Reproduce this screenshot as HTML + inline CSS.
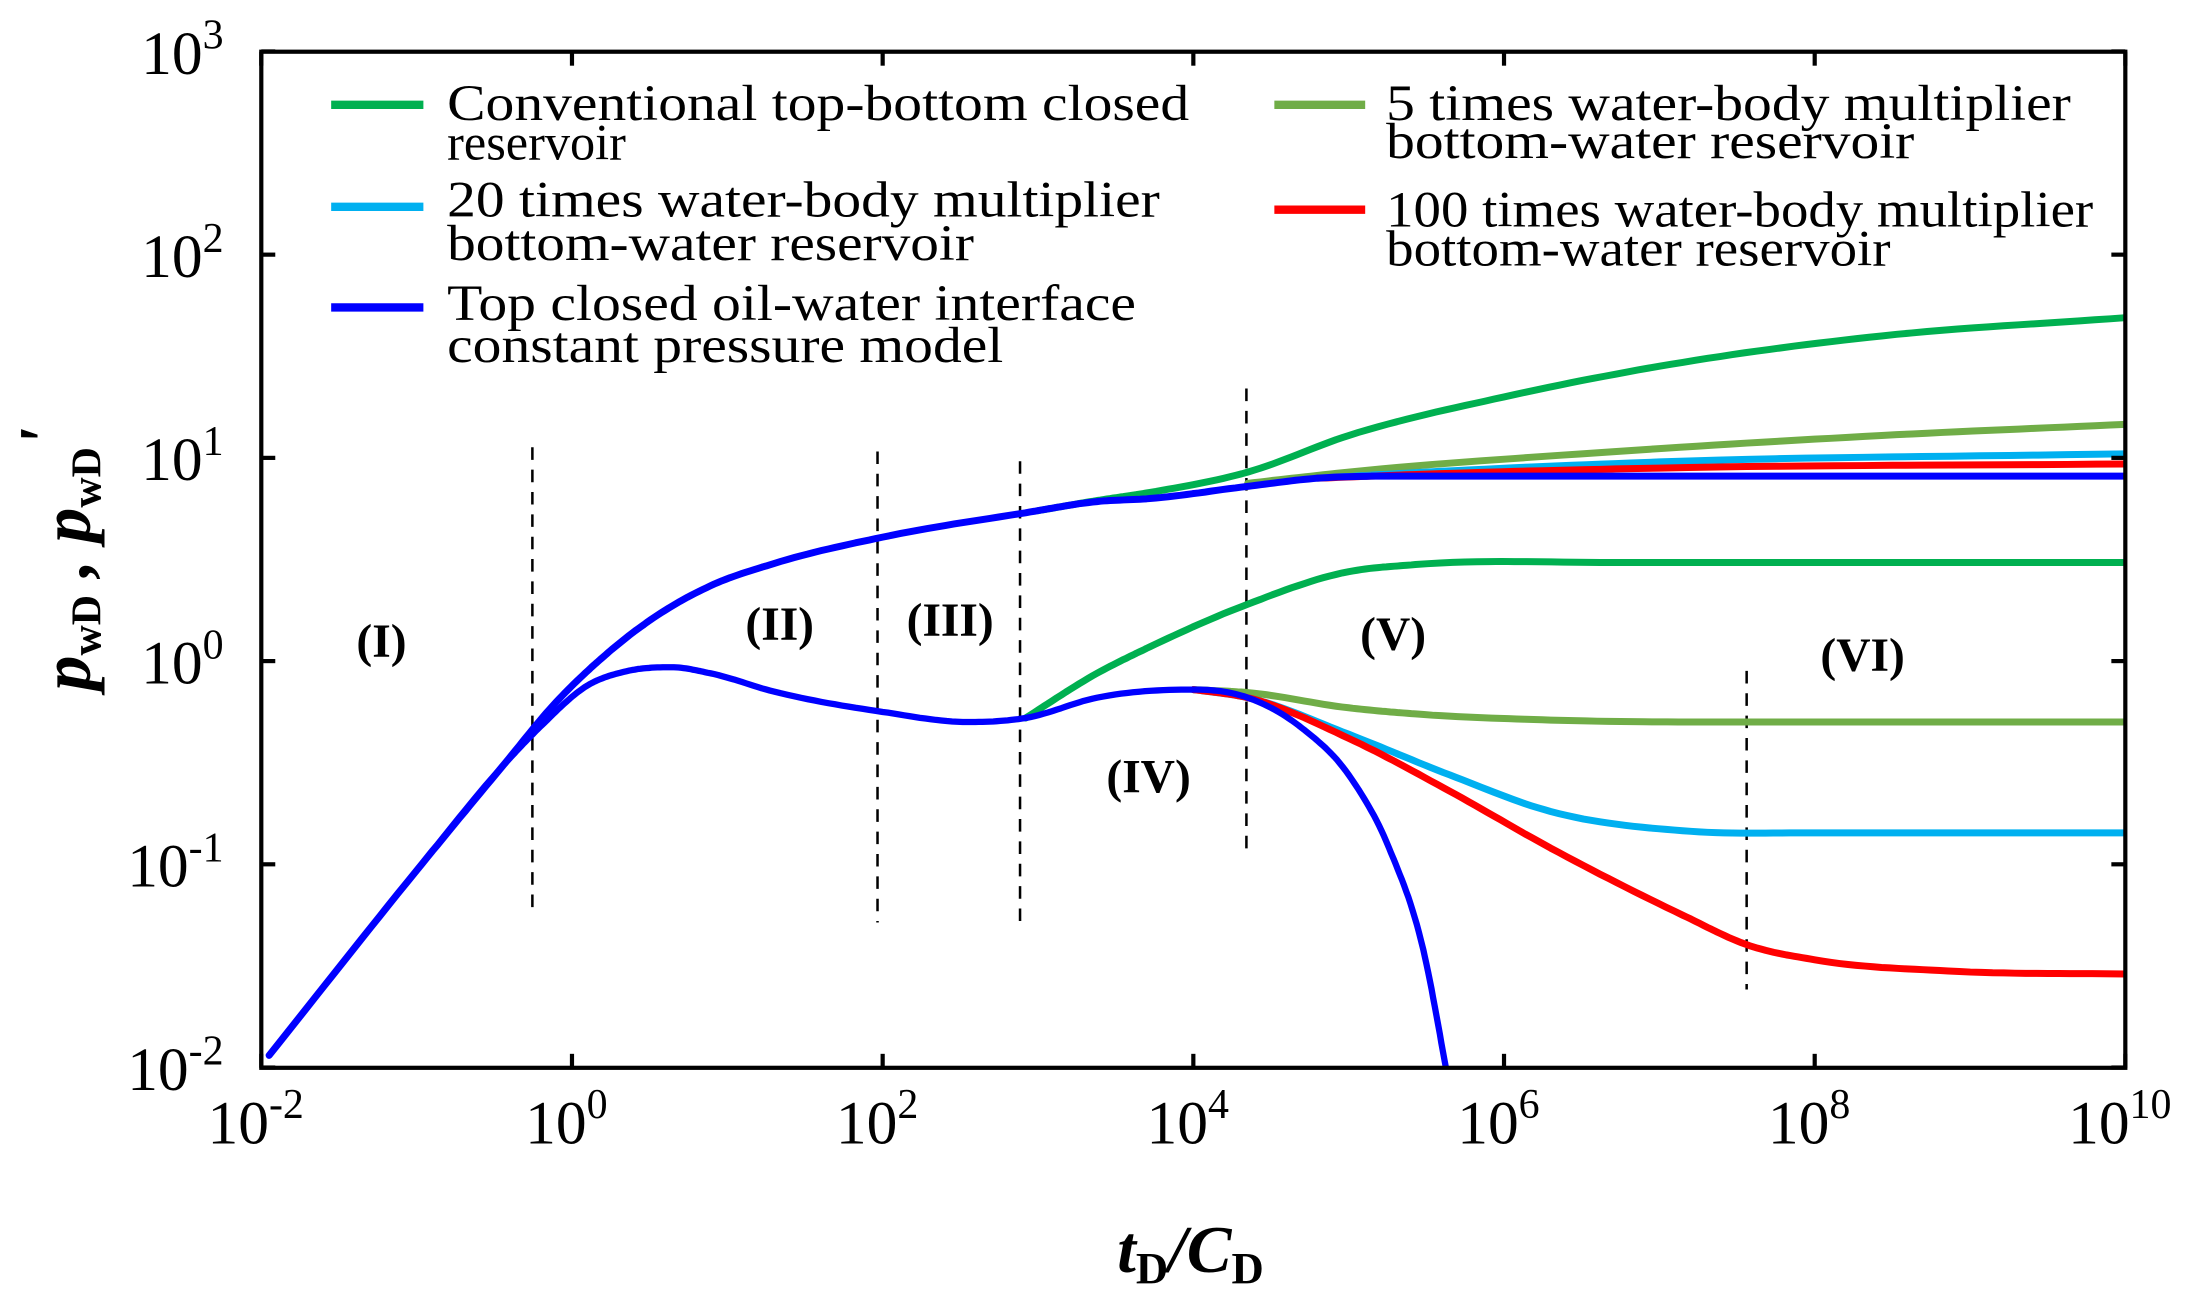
<!DOCTYPE html>
<html><head><meta charset="utf-8"><style>
html,body{margin:0;padding:0;background:#fff;}
svg{display:block;}
</style></head><body>
<svg id="s" width="2191" height="1311" viewBox="0 0 1568 938" preserveAspectRatio="none" xmlns="http://www.w3.org/2000/svg" font-family="Liberation Serif, serif">
<defs><clipPath id="c"><rect x="187" y="37" width="1334" height="727"/></clipPath></defs>
<g stroke="#000" stroke-width="1.8" stroke-dasharray="9,7" fill="none">
<line x1="381" y1="320" x2="381" y2="655"/>
<line x1="628" y1="323" x2="628" y2="660"/>
<line x1="730" y1="330" x2="730" y2="665"/>
<line x1="892" y1="278" x2="892" y2="612"/>
<line x1="1250" y1="480" x2="1250" y2="708"/>
</g>
<g id="curves" clip-path="url(#c)" fill="none" stroke-width="5" stroke-linecap="round" stroke-linejoin="round"></g>
<rect x="187" y="37" width="1334" height="727" fill="none" stroke="#000" stroke-width="3"/>
<g id="ticks" stroke="#000" stroke-width="3"></g>
<g font-size="44" id="xl" font-family="Liberation Serif, serif"></g>
<g stroke-width="6">
<line x1="237" y1="75" x2="303" y2="75" stroke="#00b050"/>
<line x1="237" y1="148" x2="303" y2="148" stroke="#00b0f0"/>
<line x1="237" y1="220" x2="303" y2="220" stroke="#0000ff"/>
<line x1="912" y1="75" x2="977" y2="75" stroke="#70ad47"/>
<line x1="912" y1="150" x2="977" y2="150" stroke="#ff0000"/>
</g>
<g font-size="36" font-family="Liberation Serif, serif">
<text x="320" y="86" textLength="531" lengthAdjust="spacingAndGlyphs">Conventional top-bottom closed</text>
<text x="320" y="114" font-size="36">reservoir</text>
<text x="320" y="155" textLength="510" lengthAdjust="spacingAndGlyphs">20 times water-body multiplier</text>
<text x="320" y="186" textLength="377" lengthAdjust="spacingAndGlyphs">bottom-water reservoir</text>
<text x="320" y="229" textLength="493" lengthAdjust="spacingAndGlyphs">Top closed oil-water interface</text>
<text x="320" y="259" textLength="398" lengthAdjust="spacingAndGlyphs">constant pressure model</text>
<text x="992" y="86" textLength="490" lengthAdjust="spacingAndGlyphs">5 times water-body multiplier</text>
<text x="992" y="113" textLength="378" lengthAdjust="spacingAndGlyphs">bottom-water reservoir</text>
<text x="992" y="162" textLength="506" lengthAdjust="spacingAndGlyphs">100 times water-body multiplier</text>
<text x="992" y="190" textLength="361" lengthAdjust="spacingAndGlyphs">bottom-water reservoir</text>
</g>
<g font-size="34" font-weight="bold" text-anchor="middle" font-family="Liberation Serif, serif">
<text x="273" y="470">(I)</text>
<text x="558" y="458">(II)</text>
<text x="680" y="455">(III)</text>
<text x="822" y="567">(IV)</text>
<text x="997" y="465">(V)</text>
<text x="1333" y="480">(VI)</text>
</g>
<text x="852" y="910" font-size="48" font-weight="bold" font-style="italic" text-anchor="middle" font-family="Liberation Serif, serif">t<tspan font-size="32" dy="8" font-style="normal">D</tspan><tspan dy="-8">/C</tspan><tspan font-size="32" dy="8" font-style="normal">D</tspan></text>
<text transform="translate(64,400) rotate(-90)" font-size="50" font-weight="bold" font-style="italic" text-anchor="middle" font-family="Liberation Serif, serif">p<tspan font-size="30" dy="8" font-style="normal">wD</tspan><tspan dy="-8"> , p</tspan><tspan font-size="30" dy="8" font-style="normal">wD</tspan><tspan dy="-24">'</tspan></text>
</svg>
<script>
var X=function(l){return 187+(l+2)*111.17;},Y=function(l){return 473-l*145.4;};
function path(pts){
 var n=pts.length,xs=pts.map(function(a){return a[0]}),ys=pts.map(function(a){return a[1]});
 var d=[],m=[];
 for(var i=0;i<n-1;i++)d.push((ys[i+1]-ys[i])/(xs[i+1]-xs[i]));
 m[0]=d[0];m[n-1]=d[n-2];
 for(var i=1;i<n-1;i++){ if(d[i-1]*d[i]<=0)m[i]=0; else m[i]=(d[i-1]*(xs[i+1]-xs[i])+d[i]*(xs[i]-xs[i-1]))/(xs[i+1]-xs[i-1]); }
 var s="M"+X(xs[0]).toFixed(1)+","+Y(ys[0]).toFixed(1);
 for(var i=0;i<n-1;i++){var h=xs[i+1]-xs[i];
  for(var k=1;k<=16;k++){var t=k/16,t2=t*t,t3=t2*t;
   var y=(2*t3-3*t2+1)*ys[i]+(t3-2*t2+t)*h*m[i]+(-2*t3+3*t2)*ys[i+1]+(t3-t2)*h*m[i+1];
   s+=" L"+X(xs[i]+h*t).toFixed(1)+","+Y(y).toFixed(1);}}
 return s;
}
var S=[];
function add(col,pts,w){S.push('<path d="'+path(pts)+'" stroke="'+col+'"'+(w?' stroke-width="'+w+'"':'')+'/>');}
var early=[[-1.95,-1.94],[-1.0,-1.03],[-0.45,-0.52]];
var pres=early.concat([[-0.1,-0.2],[0.2,0.02],[0.5,0.2],[0.89,0.37],[1.3,0.48],[2.0,0.61],[2.92,0.73],[3.38,0.785]]);
var der=early.concat([[-0.2,-0.32],[0.1,-0.12],[0.35,-0.05],[0.64,-0.03],[0.89,-0.06],[1.3,-0.15],[2.0,-0.25],[2.55,-0.3],[2.92,-0.28],[3.38,-0.18],[4.0,-0.14]]);
add("#00b050",[[3.0,0.74],[3.38,0.79],[3.72,0.83],[4.35,0.93],[5.0,1.11],[6.0,1.30],[7.15,1.47],[8.43,1.60],[10,1.69]]);
add("#00b050",[[2.92,-0.28],[3.38,-0.06],[3.72,0.07],[4.35,0.28],[5.0,0.44],[5.43,0.475],[6.7,0.485],[10,0.485]]);
add("#70ad47",[[4.35,0.875],[5.0,0.93],[6.7,1.03],[8.43,1.11],[10,1.165]]);
add("#70ad47",[[4.0,-0.14],[4.35,-0.155],[5.0,-0.23],[5.43,-0.26],[6.3,-0.29],[7.5,-0.30],[10,-0.30]]);
add("#00b0f0",[[4.8,0.9],[5.5,0.93],[7,0.98],[10,1.02]]);
add("#00b0f0",[[4.0,-0.14],[4.35,-0.18],[5.0,-0.36],[5.65,-0.56],[6.3,-0.74],[7.15,-0.835],[8.0,-0.845],[10,-0.845]]);
add("#ff0000",[[4.8,0.9],[5.5,0.92],[7,0.95],[10,0.97]]);
add("#ff0000",[[4.0,-0.14],[4.35,-0.18],[5.0,-0.38],[5.65,-0.64],[6.3,-0.92],[7.15,-1.25],[7.58,-1.40],[8.0,-1.47],[8.86,-1.525],[10,-1.54]]);
add("#0000ff",pres.concat([[3.72,0.8],[4.35,0.86],[4.8,0.9],[5.3,0.91],[10,0.91]]));
add("#0000ff",der.concat([[4.35,-0.18],[4.7,-0.33],[5.0,-0.56],[5.26,-0.92],[5.48,-1.42],[5.65,-2.1]]),4.5);
document.getElementById("curves").innerHTML=S.join("");
var t="",xl="";
for(var e=-2;e<=10;e+=2){var x=X(e);t+='<line x1="'+x+'" y1="764" x2="'+x+'" y2="754"/><line x1="'+x+'" y1="37" x2="'+x+'" y2="47"/>';
 xl+='<text x="'+(x-4)+'" y="818" text-anchor="middle">10<tspan font-size="30" dy="-18">'+e+'</tspan></text>';}
for(var e=-2;e<=3;e++){var y=Y(e);t+='<line x1="187" y1="'+y+'" x2="197" y2="'+y+'"/><line x1="1511" y1="'+y+'" x2="1521" y2="'+y+'"/>';
 xl+='<text x="160" y="'+(y+16)+'" text-anchor="end">10<tspan font-size="30" dy="-18">'+e+'</tspan></text>';}
document.getElementById("ticks").innerHTML=t;
document.getElementById("xl").innerHTML=xl;
</script>
</body></html>
